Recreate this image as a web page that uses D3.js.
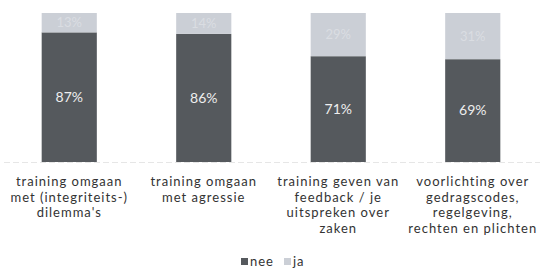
<!DOCTYPE html>
<html>
<head>
<meta charset="utf-8">
<script src="https://cdn.jsdelivr.net/npm/d3@7"></script>
<style>
  body { margin: 0; background: #fff; }
  svg { display: block; }
</style>
</head>
<body>
<div id="chart"></div>
<script>
// data
var categories = [
  ["training omgaan", "met (integriteits-)", "dilemma's"],
  ["training omgaan", "met agressie"],
  ["training geven van", "feedback / je", "uitspreken over", "zaken"],
  ["voorlichting over", "gedragscodes,", "regelgeving,", "rechten en plichten"]
];
var nee = [87, 86, 71, 69];
var ja = [13, 14, 29, 31];
var seriesNames = ["nee", "ja"];

var width = 542, height = 276;
var baseY = 162, topY = 13;

var svg = d3.select("#chart").append("svg")
  .attr("width", width)
  .attr("height", height);

var x = d3.scaleBand()
  .domain(d3.range(categories.length))
  .range([2, 540])
  .paddingInner(0.59)
  .paddingOuter(0.295);

var y = d3.scaleLinear()
  .domain([0, 100])
  .range([baseY, topY]);

var colors = { nee: "#55595d", ja: "#cbcfd6" };

// faint baseline
svg.append("line")
  .attr("x1", 4).attr("x2", 540)
  .attr("y1", baseY + 0.5).attr("y2", baseY + 0.5)
  .attr("stroke", "#e6e6e6")
  .attr("stroke-dasharray", "6,3");

var g = svg.selectAll(".bar")
  .data(categories)
  .enter().append("g")
  .attr("class", "bar");

// nee
g.append("rect")
  .attr("x", function(d, i) { return x(i); })
  .attr("width", x.bandwidth())
  .attr("y", function(d, i) { return y(nee[i]); })
  .attr("height", function(d, i) { return baseY - y(nee[i]); })
  .attr("fill", colors.nee);

// ja
g.append("rect")
  .attr("x", function(d, i) { return x(i); })
  .attr("width", x.bandwidth())
  .attr("y", function(d, i) { return y(nee[i] + ja[i]); })
  .attr("height", function(d, i) { return y(nee[i]) - y(nee[i] + ja[i]); })
  .attr("fill", colors.ja);

// value labels
g.append("text")
  .attr("x", function(d, i) { return x(i) + x.bandwidth() / 2; })
  .attr("y", function(d, i) { return (y(nee[i]) + baseY) / 2; })
  .attr("dy", "0.35em")
  .attr("text-anchor", "middle")
  .attr("font-family", "Lato, sans-serif")
  .attr("font-size", 14)
  .attr("fill", "#eeeeee")
  .text(function(d, i) { return nee[i] + "%"; });

g.append("text")
  .attr("x", function(d, i) { return x(i) + x.bandwidth() / 2; })
  .attr("y", function(d, i) { return (y(nee[i]) + y(nee[i] + ja[i])) / 2; })
  .attr("dy", "0.35em")
  .attr("text-anchor", "middle")
  .attr("font-family", "Lato, sans-serif")
  .attr("font-size", 13)
  .attr("fill", "#dadde2")
  .text(function(d, i) { return ja[i] + "%"; });

// category labels
var labels = g.append("text")
  .attr("text-anchor", "middle")
  .attr("font-family", "Lato, sans-serif")
  .attr("font-size", 13)
  .attr("letter-spacing", 1)
  .attr("fill", "#333");

labels.selectAll("tspan")
  .data(function(d, i) { return d.map(function(s) { return { s: s, i: i }; }); })
  .enter().append("tspan")
  .attr("x", function(d) { return x(d.i) + x.bandwidth() / 2; })
  .attr("y", function(d, j) { return 186 + j * 15.6; })
  .text(function(d) { return d.s; });

// legend
var legend = svg.append("g").attr("font-family", "Lato, sans-serif").attr("font-size", 13)
  .attr("letter-spacing", 1).attr("fill", "#333");
var legX = [241, 284];
seriesNames.forEach(function(name, k) {
  legend.append("rect")
    .attr("x", legX[k]).attr("y", 258)
    .attr("width", 7).attr("height", 7)
    .attr("fill", colors[name]);
  legend.append("text")
    .attr("x", legX[k] + 9).attr("y", 266)
    .text(name);
});
</script>
</body>
</html>
